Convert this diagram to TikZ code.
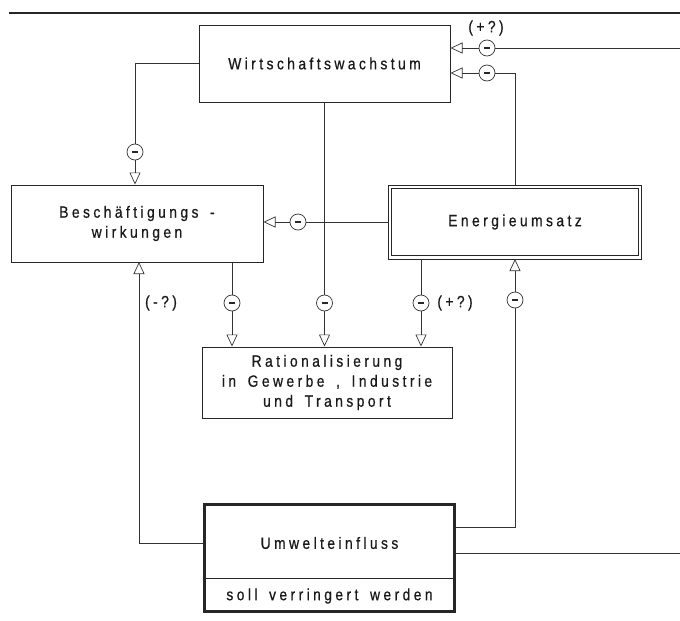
\documentclass[tikz,border=0pt]{standalone}
\usepackage{fontspec}
\setmainfont{Liberation Sans}[FakeStretch=0.85,LetterSpace=21,WordSpace=1.6,FakeBold=0.6]
\usetikzlibrary{arrows.meta}
\begin{document}
\begin{tikzpicture}[x=1pt,y=-1pt,
  every node/.style={font=\fontsize{16.3}{20}\selectfont, text=black!90},
  box/.style={draw=black!85, line width=1pt, align=center, inner sep=0pt},
  line/.style={draw=black!80, line width=0.7pt},
  arr/.style={line, -{Triangle[open, length=12pt, width=11pt, line width=0.7pt]}},
  minus/.style={circle, draw=black!80, fill=white, line width=0.7pt, minimum size=16pt, inner sep=0pt,
    path picture={\draw[line width=1.4pt, black!85] ([xshift=-3pt]path picture bounding box.center) -- ([xshift=3pt]path picture bounding box.center);}},
  lbl/.style={inner sep=0pt}
]
\useasboundingbox (0,0) rectangle (680,621);
% top rule
\coordinate (ruleL) at (9,13);
\coordinate (ruleR) at (680,13);
\draw[line width=2pt, black!85] (ruleL) -- (ruleR);

% boxes
\node[box, minimum width=251pt, minimum height=77pt] (W) at (324.5,63.5) {Wirtschaftswachstum};
\node[box, minimum width=252pt, minimum height=77pt] (B) at (137,223.5) {Beschäftigungs -\\wirkungen};
\node[box, draw=none, minimum width=249pt, minimum height=70pt] (E) at (515,222) {Energieumsatz};
\draw[black!85, line width=1pt] ([shift={(-1.5pt,1.5pt)}]E.north west) rectangle ([shift={(1.5pt,-1.5pt)}]E.south east);
\draw[black!85, line width=0.9pt] ([shift={(1.8pt,-1.8pt)}]E.north west) rectangle ([shift={(-1.8pt,1.8pt)}]E.south east);
\node[box, minimum width=250pt, minimum height=71pt] (R) at (327,382.5) {Rationalisierung\\in Gewerbe , Industrie\\und Transport};
\node[box, line width=3.2pt, minimum width=250pt, minimum height=107pt] (U) at (329.5,558) {};
\node (U1) at (329.5,543) {Umwelteinfluss};
\node (U2) at (329.5,596) {soll verringert werden};
\draw[line width=1pt, black!85] (U.west |- 0,578) -- (U.east |- 0,578);

% minus circles
\node[minus] (m1) at (135,152) {};
\node[minus] (m2) at (324.5,303) {};
\node[minus] (m3) at (298,222) {};
\node[minus] (m4) at (487,73) {};
\node[minus] (m5) at (487,48) {};
\node[minus] (m6) at (232,303) {};
\node[minus] (m7) at (421,303) {};
\node[minus] (m9) at (515,300) {};

\coordinate (edge1) at (680,48);
\coordinate (edge2) at (680,553);

% connectors
\draw[line] (W.west) -| (m1);
\draw[arr] (m1) -- (m1 |- B.north);

\draw[line] (W.south) -- (m2);
\draw[arr] (m2) -- (m2 |- R.north);

\draw[line] ([xshift=-1.5pt]E.west) -- (m3);
\draw[arr] (m3) -- (m3 -| B.east);

\draw[line] ([yshift=1.5pt]E.north) |- (m4);
\draw[arr] (m4) -- (m4 -| W.east);

\draw[line] (edge1) -- (m5);
\draw[arr] (m5) -- (m5 -| W.east);
\node[lbl] (l1) at (486,28) {(+?)};

\draw[line] (m6 |- B.south) -- (m6);
\draw[arr] (m6) -- (m6 |- R.north);

\draw[line] ([yshift=-1.5pt]m7 |- E.south) -- (m7);
\draw[arr] (m7) -- (m7 |- R.north);
\node[lbl] (l2) at (455,303) {(+?)};

\draw[arr] (U.west |- 0,543) -| (139,262);
\node[lbl] (l3) at (161,303) {(-?)};

\draw[line] (U.east |- 0,527) -| (m9);
\draw[arr] (m9) -- ([yshift=-1.5pt]E.south);

\draw[line] (U.east |- 0,553) -- (edge2);
\end{tikzpicture}
\end{document}
